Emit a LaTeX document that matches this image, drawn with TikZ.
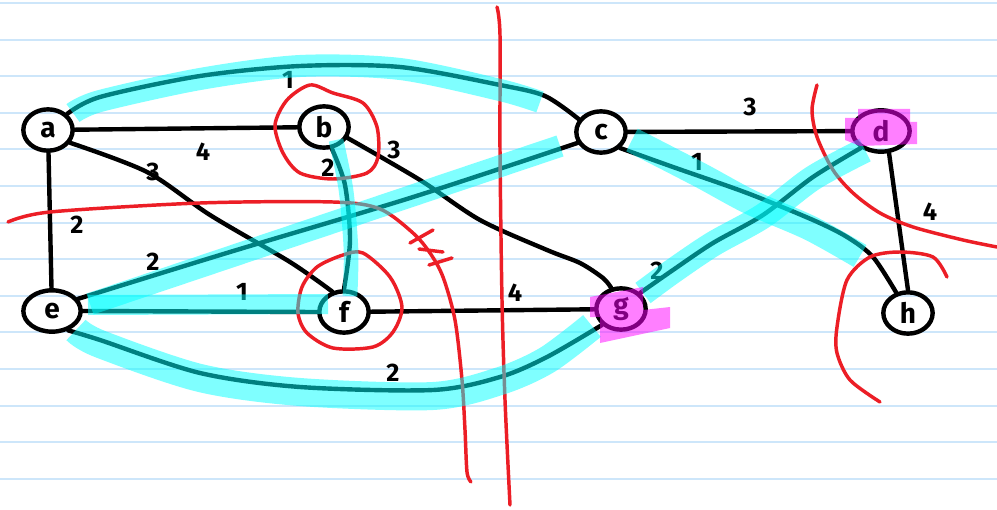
\documentclass[tikz,border=0pt]{standalone}
\usepackage{fontspec}
\setmainfont{Fira Sans}
\usetikzlibrary{shapes.geometric}
\definecolor{rulecol}{RGB}{205,230,250}
\definecolor{penred}{RGB}{236,30,38}
\definecolor{hlcyan}{RGB}{0,255,255}
\definecolor{hlmag}{RGB}{255,0,255}
\tikzset{
  vtx/.style={draw=black, line width=3.3pt, ellipse, minimum width=37pt, minimum height=31pt, inner sep=0pt, font=\fontsize{21}{21}\selectfont\bfseries},
  wide/.style={minimum width=43pt},
  edge/.style={draw=black, line width=3.3pt, line cap=round, line join=round},
  lbl/.style={inner sep=0pt, font=\fontsize{19}{19}\selectfont\bfseries},
  redpen/.style={draw=penred, line width=2.6pt, line cap=round, line join=round},
  hl/.style={draw=hlcyan, draw opacity=0.5, line width=16.5pt, line cap=butt},
  mk/.style={fill=hlmag, fill opacity=0.5}
}
\begin{document}
\begin{tikzpicture}[x=0.75pt,y=-0.75pt]
\useasboundingbox (0,0) rectangle (997,510);
\fill[white] (0,0) rectangle (997,510);
% ruled paper
\foreach \k in {0,...,13} {
  \draw[rulecol, line width=1.5pt] (0,{3+36.6*\k}) -- (997,{3+36.6*\k});
}
% vertices
\node[vtx] (a) at (48,130) {a};
\node[vtx] (b) at (324,127) {b};
\node[vtx] (c) at (601,132) {c};
\node[vtx,wide] (d) at (881,131) {d};
\node[vtx,wide] (e) at (52,311) {e};
\node[vtx] (f) at (344,312) {f};
\node[vtx] (g) at (621,309) {g};
\node[vtx] (h) at (908,313) {h};
% edges
\draw[edge] (a) -- (b);
\draw[edge] plot[smooth] coordinates {(a.40) (100,97) (200,76) (300,66) (400,67) (500,85) (545,96) (c.150)};
\draw[edge] (a) -- (e);
\draw[edge] plot[smooth] coordinates {(a.-30) (147,172) (210,215) (290,262) (f.120)};
\draw[edge] plot[smooth] coordinates {(b.-70) (345,185) (350,240) (f.north)};
\draw[edge] plot[smooth] coordinates {(b.-25) (420,180) (480,220) (547,250) (580,263) (603,278) (g.115)};
\draw[edge] plot[smooth] coordinates {(e.25) (230,252) (410,198) (c.205)};
\draw[edge] (e.east) -- (f.west);
\draw[edge] plot[smooth] coordinates {(e.-50) (100,340) (200,373) (300,387) (433,390) (500,377) (547,357) (g.-140)};
\draw[edge] (f) -- (g);
\draw[edge] (c) -- (d);
\draw[edge] plot[smooth] coordinates {(c.-40) (673,167) (747,193) (813,220) (847,237) (873,257) (h.120)};
\draw[edge] (d.-70) -- (h.north);
\draw[edge] plot[smooth] coordinates {(d.-140) (813,177) (763,215) (713,243) (673,270) (g.40)};
% weights
\node[lbl] (wac) at (288,80) {1};
\node[lbl] (wab) at (203,152) {4};
\node[lbl] (waf) at (153,172) {3};
\node[lbl] (wae) at (77,225) {2};
\node[lbl] (wbf) at (328,168) {2};
\node[lbl] (wbg) at (394,150) {3};
\node[lbl] (wec) at (153,262) {2};
\node[lbl] (wef) at (242,292) {1};
\node[lbl] (weg) at (393,373) {2};
\node[lbl] (wfg) at (515,293) {4};
\node[lbl] (wgd) at (657,271) {2};
\node[lbl] (wcd) at (750,107) {3};
\node[lbl] (wch) at (697,162) {1};
\node[lbl] (wdh) at (930,212) {4};
% red pen
\draw[redpen] plot[smooth] coordinates {(497,7) (500,35) (500,150) (502,300) (505,400) (510,505)};
\draw[redpen] plot[smooth] coordinates {(8,222) (50,212) (200,203) (333,202) (380,209) (413,233) (430,253) (443,277) (455,320) (462,380) (465,430) (467,472) (471,482)};
\draw[redpen] (410,243) -- (433,230);
\draw[redpen] (419,249) -- (443,252);
\draw[redpen] (429,265) -- (452,258);
\draw[redpen] plot[smooth cycle] coordinates {(310,85) (333,93) (363,103) (377,127) (378,157) (367,173) (333,179) (300,173) (283,153) (275,125) (287,100)};
\draw[redpen] plot[smooth cycle] coordinates {(363,253) (390,277) (402,307) (393,332) (373,347) (333,348) (307,333) (298,313) (302,287) (317,267) (343,255)};
\draw[redpen] plot[smooth] coordinates {(817,85) (812,110) (817,137) (833,170) (853,193) (880,213) (913,227) (963,240) (997,247)};
\draw[redpen] plot[smooth] coordinates {(880,402) (850,380) (837,353) (837,327) (847,280) (870,257) (900,252) (933,257) (947,277)};
% cyan highlighter
\draw[hl] plot[smooth] coordinates {(73,113) (100,101) (200,79) (300,66) (400,69) (500,90) (540,102)};
\draw[hl] (90,304) -- (560,146);
\draw[hl, line width=15pt] (88,305) -- (328,304);
\draw[hl, line width=11pt] plot[smooth] coordinates {(336,140) (346,190) (351,250) (350,296)};
\draw[hl, line width=21pt] plot[smooth] coordinates {(76,330) (100,344) (200,378) (300,392) (433,396) (500,381) (547,360) (592,326)};
\draw[hl, line width=19pt] plot[smooth] coordinates {(632,140) (700,175) (750,202) (810,228) (860,256)};
\draw[hl, line width=19pt] plot[smooth] coordinates {(865,150) (813,178) (763,216) (713,244) (673,271) (643,293)};
% magenta highlighter
\fill[mk] (845,118) -- (858,118) -- (858,109) -- (910,109) -- (910,122) -- (917,122) -- (917,144) -- (860,146) -- (845,140) -- cycle;
\fill[mk] (590,297) -- (643,287) -- (643,310) -- (670,307) -- (670,328) -- (600,343) -- (600,317) -- (590,317) -- cycle;
\end{tikzpicture}
\end{document}
